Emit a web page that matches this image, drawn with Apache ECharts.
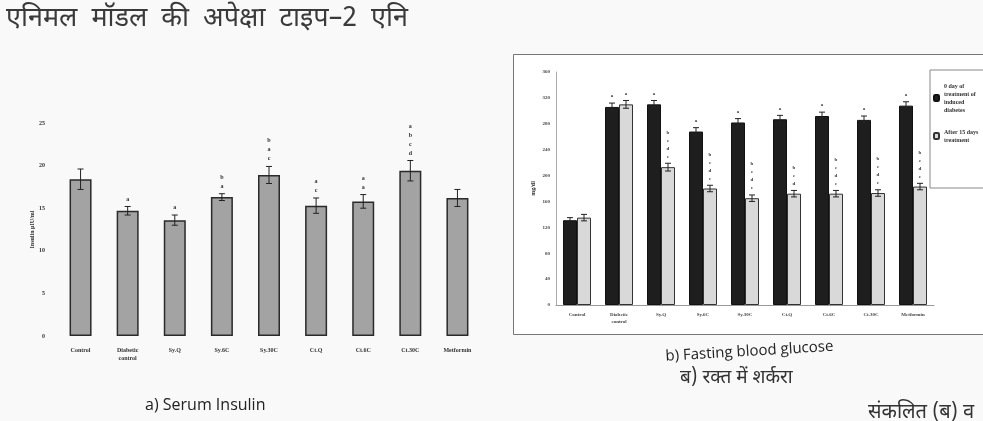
<!DOCTYPE html>
<html>
<head>
<meta charset="utf-8">
<script src="https://cdn.jsdelivr.net/npm/echarts@6/dist/echarts.min.js"></script>
<style>
html,body{margin:0;padding:0;background:#f9f9f9;}
#c{width:983px;height:421px;}
</style>
</head>
<body>
<div id="c"></div>
<script>
// ---- Serum insulin (a) ----
const insulinCats = ['Control', 'Diabetic\ncontrol', 'Sy.Q', 'Sy.6C', 'Sy.30C', 'Ct.Q', 'Ct.6C', 'Ct.30C', 'Metformin'];
const insulinVals = [18.4, 14.7, 13.6, 16.3, 18.9, 15.3, 15.8, 19.4, 16.2];
const insulinErr = [1.2, 0.5, 0.6, 0.4, 1.0, 0.9, 0.8, 1.2, 1.0];
const insulinSig = ['', 'a', 'a', 'b\na', 'b\na\nc', 'a\nc', 'a\na', 'a\nb\nc\nd', ''];
const insulinTicks = [0, 5, 10, 15, 20, 25];

// ---- Fasting blood glucose (b) ----
const glucoseCats = ['Control', 'Diabetic\ncontrol', 'Sy.Q', 'Sy.6C', 'Sy.30C', 'Ct.Q', 'Ct.6C', 'Ct.30C', 'Metformin'];
const glucoseDay0 = [131, 306, 310, 268, 282, 287, 292, 286, 308];
const glucoseDay15 = [135, 310, 213, 180, 165, 172, 172, 173, 183];
const glucoseErr0 = [4, 6, 6, 6, 6, 6, 6, 6, 6];
const glucoseErr15 = [5, 6, 6, 5, 5, 5, 5, 5, 5];
const glucoseSig0 = ['', 'a', 'a', 'a', 'a', 'a', 'a', 'a', 'a'];
const glucoseSig15 = ['', 'a', 'b\nc\nd\ne', 'b\nc\nd\ne', 'b\nc\nd\ne', 'b\nc\nd', 'b\nc\nd\ne', 'b\nc\nd\ne', 'b\nc\nd\ne'];
const glucoseTicks = [0, 40, 80, 120, 160, 200, 240, 280, 320, 360];
const seriesNames = ['0 day of\ntreatment of\ninduced\ndiabetes', 'After 15 days\ntreatment'];

const chart = echarts.init(document.getElementById('c'), null, {renderer: 'canvas'});

function errSeries(xi, yi, vals, errs, sigs, offset, fontSize) {
  return {
    type: 'custom', xAxisIndex: xi, yAxisIndex: yi, z: 5, silent: true,
    data: vals.map((v, i) => [i, v, errs[i]]),
    renderItem: function (params, api) {
      const i = api.value(0), v = api.value(1), e = api.value(2);
      const sig = sigs[i];
      const top = api.coord([i, v + e]);
      const bot = api.coord([i, v - e]);
      const x = top[0] + offset;
      const cap = 3;
      const children = [
        {type: 'line', shape: {x1: x, y1: top[1], x2: x, y2: bot[1]}, style: {stroke: '#222', lineWidth: 1}},
        {type: 'line', shape: {x1: x - cap, y1: top[1], x2: x + cap, y2: top[1]}, style: {stroke: '#222', lineWidth: 1}},
        {type: 'line', shape: {x1: x - cap, y1: bot[1], x2: x + cap, y2: bot[1]}, style: {stroke: '#222', lineWidth: 1}}
      ];
      if (sig) {
        children.push({type: 'text', style: {text: sig, x: x, y: top[1] - 3, align: 'center', verticalAlign: 'bottom',
          font: 'bold ' + fontSize + 'px "Liberation Serif", serif', fill: '#333', lineHeight: fontSize + 3}});
      }
      return {type: 'group', children: children};
    }
  };
}

const option = {
  backgroundColor: '#f9f9f9',
  animation: false,
  legend: {
    data: seriesNames,
    orient: 'vertical',
    left: 930, top: 70,
    itemWidth: 5, itemHeight: 6, itemGap: 14,
    backgroundColor: '#fff',
    borderColor: '#888', borderWidth: 1,
    padding: [12, 6, 44, 3],
    textStyle: {fontSize: 6, fontFamily: 'Liberation Serif', color: '#333', lineHeight: 8, fontWeight: 'bold'}
  },
  grid: [
    {left: 57, right: 502, top: 123, bottom: 85},
    {left: 556, right: 49, top: 72, bottom: 116}
  ],
  xAxis: [
    {type: 'category', gridIndex: 0, data: insulinCats,
     axisLine: {show: false}, axisTick: {show: false},
     axisLabel: {fontSize: 6, fontFamily: 'Liberation Serif', fontWeight: 'bold', color: '#333', margin: 10, interval: 0, lineHeight: 8}},
    {type: 'category', gridIndex: 1, data: glucoseCats,
     axisLine: {show: true, lineStyle: {color: '#999'}}, axisTick: {show: false},
     axisLabel: {fontSize: 5, fontFamily: 'Liberation Serif', fontWeight: 'bold', color: '#444', margin: 6, interval: 0, lineHeight: 7}}
  ],
  yAxis: [
    {type: 'value', gridIndex: 0, min: insulinTicks[0], max: insulinTicks[insulinTicks.length - 1], interval: 5,
     name: 'Insulin µIU/ml', nameLocation: 'middle', nameGap: 20,
     nameTextStyle: {fontSize: 6, fontFamily: 'Liberation Serif', fontWeight: 'bold', color: '#333'},
     axisLine: {show: false}, axisTick: {show: false}, splitLine: {show: false},
     axisLabel: {fontSize: 6, fontFamily: 'Liberation Serif', fontWeight: 'bold', color: '#333', margin: 12}},
    {type: 'value', gridIndex: 1, min: glucoseTicks[0], max: glucoseTicks[glucoseTicks.length - 1], interval: 40,
     name: 'mg/dl', nameLocation: 'middle', nameGap: 20,
     nameTextStyle: {fontSize: 6, fontFamily: 'Liberation Serif', fontWeight: 'bold', color: '#333'},
     axisLine: {show: true, lineStyle: {color: '#aaa'}}, axisTick: {show: false}, splitLine: {show: false},
     axisLabel: {fontSize: 5, fontFamily: 'Liberation Serif', fontWeight: 'bold', color: '#444', margin: 6}}
  ],
  series: [
    {type: 'bar', xAxisIndex: 0, yAxisIndex: 0, data: insulinVals, barWidth: 22,
     itemStyle: {color: '#a3a3a3', borderColor: '#2a2a2a', borderWidth: 1.5}},
    errSeries(0, 0, insulinVals, insulinErr, insulinSig, 0, 6),
    {type: 'bar', name: seriesNames[0], xAxisIndex: 1, yAxisIndex: 1, data: glucoseDay0, barWidth: 14, barGap: '0%',
     itemStyle: {color: '#1e1e1e', borderColor: '#111', borderWidth: 1}},
    {type: 'bar', name: seriesNames[1], xAxisIndex: 1, yAxisIndex: 1, data: glucoseDay15, barWidth: 14, barGap: '0%',
     itemStyle: {color: '#d9d9d9', borderColor: '#333', borderWidth: 1}},
    errSeries(1, 1, glucoseDay0, glucoseErr0, glucoseSig0, -7, 5),
    errSeries(1, 1, glucoseDay15, glucoseErr15, glucoseSig15, 7, 5)
  ],
  graphic: [
    {type: 'rect', left: 513, top: 54, z: -10, shape: {width: 480, height: 280},
     style: {fill: '#fff', stroke: '#777', lineWidth: 1}},
    {type: 'text', left: 6, top: 7, style: {text: 'एनिमल  मॉडल  की  अपेक्षा  टाइप–2  एनि', font: '27px "Noto Sans Devanagari", "Lohit Devanagari", "Noto Sans", sans-serif', fill: '#3a3a3a'}},
    {type: 'text', left: 145, top: 397, style: {text: 'a) Serum Insulin', font: '16px "Open Sans", sans-serif', fill: '#222'}},
    {type: 'text', x: 666, y: 364, rotation: 0.06, style: {text: 'b) Fasting blood glucose', font: '15px "Open Sans", sans-serif', fill: '#222', verticalAlign: 'bottom'}},
    {type: 'text', left: 680, top: 370, style: {text: 'ब) रक्त में शर्करा', font: '19px "Noto Sans Devanagari", "Lohit Devanagari", "Noto Sans", sans-serif', fill: '#333'}},
    {type: 'text', left: 868, top: 404, style: {text: 'संकलित (ब) व', font: '20px "Noto Sans Devanagari", "Lohit Devanagari", "Noto Sans", sans-serif', fill: '#333'}}
  ]
};
chart.setOption(option);
</script>
</body>
</html>
